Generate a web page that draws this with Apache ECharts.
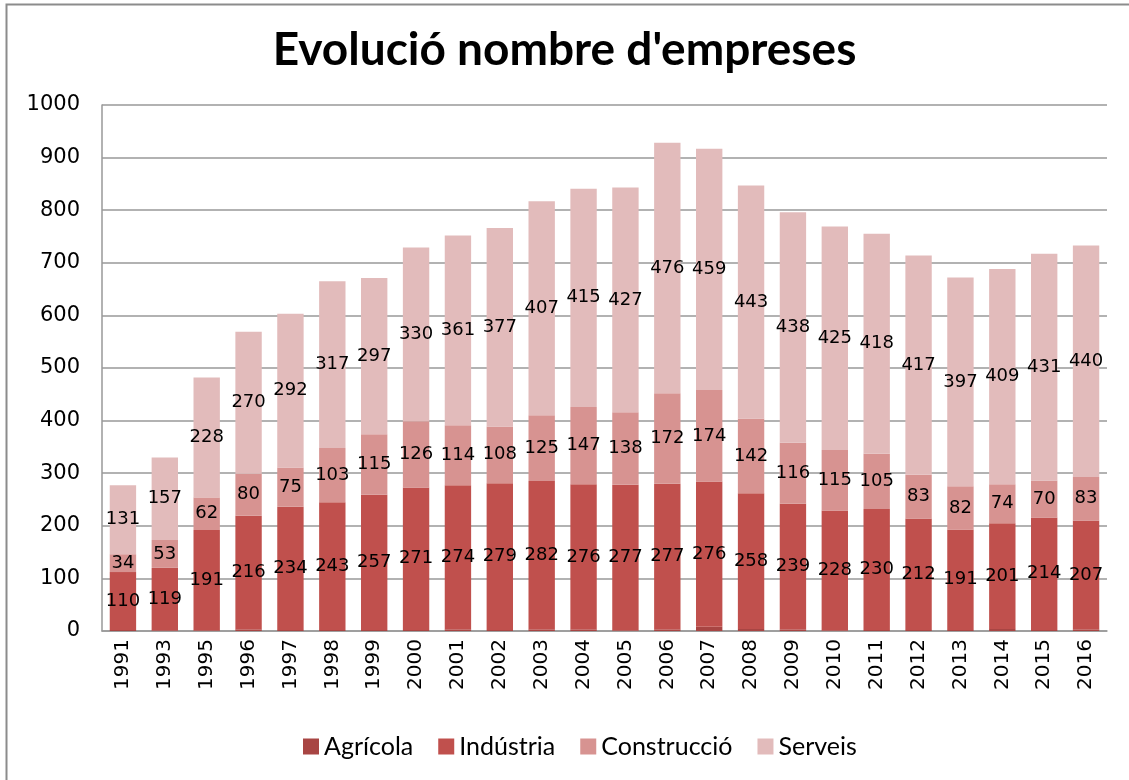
<!DOCTYPE html>
<html><head><meta charset="utf-8">
<script src="https://cdn.jsdelivr.net/npm/echarts@6/dist/echarts.min.js"></script>
<style>html,body{margin:0;padding:0;background:#fff}#c{width:1129px;height:780px}</style>
</head><body><div id="c"></div>
<script>
const years = ['1991','1993','1995','1996','1997','1998','1999','2000','2001','2002','2003','2004','2005','2006','2007','2008','2009','2010','2011','2012','2013','2014','2015','2016'];
const agricola = [2,1,1,3,2,2,2,2,3,2,3,3,1,3,8,4,3,1,2,2,2,4,2,3];
const industria = [110,119,191,216,234,243,257,271,274,279,282,276,277,277,276,258,239,228,230,212,191,201,214,207];
const construccio = [34,53,62,80,75,103,115,126,114,108,125,147,138,172,174,142,116,115,105,83,82,74,70,83];
const serveis = [131,157,228,270,292,317,297,330,361,377,407,415,427,476,459,443,438,425,418,417,397,409,431,440];
const yTicks = [0,100,200,300,400,500,600,700,800,900,1000];

const labelStyle = {show:true, position:'inside', color:'#000', fontFamily:'DejaVu Sans', fontSize:18};
function mk(name, data, color, showLabel){
  return {name, type:'bar', stack:'total', data, barCategoryGap:'37%',
    itemStyle:{color}, label: showLabel ? labelStyle : {show:false}};
}
const chart = echarts.init(document.getElementById('c'), null, {renderer:'canvas'});
chart.setOption({
  animation:false,
  backgroundColor:'#fff',
  title:{text:"Evolució nombre d'empreses", left:'center', top:22,
    textStyle:{fontFamily:'Lato', fontWeight:'bold', fontSize:46, color:'#000'}},
  graphic:[{type:'rect', shape:{x:6.5,y:4.5,width:1140,height:790}, style:{fill:'none', stroke:'#8c8c8c', lineWidth:2}, silent:true}],
  grid:{left:102, right:22, top:105, bottom:149},
  legend:{top:729, left:298, itemWidth:16, itemHeight:16, itemGap:25, icon:'rect',
    textStyle:{fontFamily:'Lato', fontSize:25, color:'#000'},
    data:['Agrícola','Indústria','Construcció','Serveis']},
  xAxis:{type:'category', data:years,
    axisLine:{lineStyle:{color:'#999', width:1.5}},
    axisTick:{show:false},
    axisLabel:{rotate:90, fontFamily:'DejaVu Sans', fontSize:20, color:'#000', margin:8}},
  yAxis:{type:'value', min:0, max:1000, interval:100,
    axisLine:{show:true, lineStyle:{color:'#999', width:1.5}},
    axisTick:{show:false},
    splitLine:{lineStyle:{color:'#999', width:1.5}},
    axisLabel:{fontFamily:'DejaVu Sans', fontSize:21, color:'#000', margin:22,
      formatter: v => yTicks.includes(v) ? String(v) : ''}},
  series:[
    mk('Agrícola', agricola, '#A84543', false),
    mk('Indústria', industria, '#C0504D', true),
    mk('Construcció', construccio, '#D79391', true),
    mk('Serveis', serveis, '#E2BBBB', true)
  ]
});
</script></body></html>
